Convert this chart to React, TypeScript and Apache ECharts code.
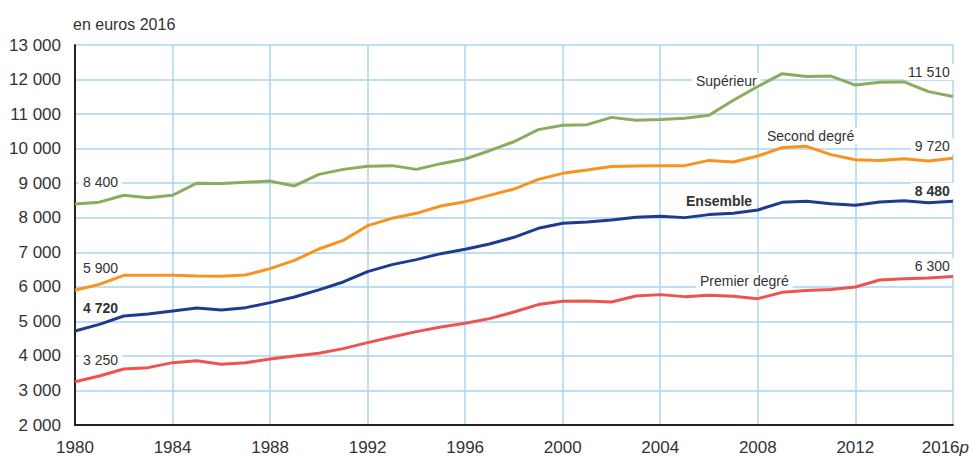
import React, { useEffect, useRef } from "react";
import * as echarts from "echarts";

const years: string[] = [];
for (let y = 1980; y <= 2016; y++) years.push(String(y));

const superieur = [8400, 8450, 8650, 8580, 8650, 9000, 8990, 9025, 9060, 8920, 9255, 9400, 9488, 9508, 9400, 9565, 9700, 9940, 10200, 10550, 10675, 10695, 10905, 10820, 10840, 10877, 10965, 11400, 11800, 12170, 12090, 12100, 11840, 11920, 11930, 11650, 11510];
const secondDegre = [5900, 6070, 6333, 6333, 6333, 6313, 6304, 6342, 6527, 6767, 7095, 7345, 7770, 7983, 8127, 8340, 8465, 8648, 8830, 9110, 9285, 9380, 9480, 9500, 9508, 9508, 9660, 9612, 9786, 10030, 10067, 9826, 9681, 9660, 9710, 9640, 9720];
const ensemble = [4720, 4914, 5155, 5213, 5300, 5387, 5329, 5397, 5542, 5705, 5910, 6140, 6440, 6642, 6787, 6960, 7085, 7240, 7433, 7693, 7838, 7876, 7934, 8012, 8040, 8003, 8090, 8127, 8223, 8446, 8475, 8408, 8359, 8455, 8494, 8437, 8480];
const premierDegre = [3250, 3418, 3621, 3660, 3805, 3863, 3757, 3805, 3910, 3997, 4075, 4211, 4385, 4547, 4703, 4836, 4943, 5079, 5270, 5485, 5580, 5589, 5560, 5734, 5774, 5716, 5754, 5725, 5658, 5840, 5890, 5919, 5994, 6197, 6237, 6255, 6300];

const FONT = "'Liberation Sans', Arial, sans-serif";
const TXT = "#333333";
const GRID = "#a9d5f0";

function fmt(v: number) {
  const s = String(Math.round(v));
  return s.replace(/\B(?=(\d{3})+(?!\d))/g, " ");
}

export default function App() {
  const ref = useRef<HTMLDivElement>(null);
  useEffect(() => {
    if (!ref.current) return;
    const chart = echarts.init(ref.current, null, { renderer: "svg" });
    const lastIdx = years.length - 1;

    const series = [
      { name: "Supérieur", data: superieur, color: "#8aac5c",
        labels: [
          { idx: 0, text: fmt(superieur[0]), bold: false, x: 0, y: 182, align: "left" },
          { idx: lastIdx, text: fmt(superieur[lastIdx]), bold: false, x: 0, y: 72, align: "right" },
          { idx: -1, text: "Supérieur", bold: false, x: 692, y: 81, align: "left" },
        ] },
      { name: "Second degré", data: secondDegre, color: "#f7931e",
        labels: [
          { idx: 0, text: fmt(secondDegre[0]), bold: false, x: 0, y: 268, align: "left" },
          { idx: lastIdx, text: fmt(secondDegre[lastIdx]), bold: false, x: 0, y: 146, align: "right" },
          { idx: -1, text: "Second degré", bold: false, x: 763, y: 136, align: "left" },
        ] },
      { name: "Ensemble", data: ensemble, color: "#1f3b8f",
        labels: [
          { idx: 0, text: fmt(ensemble[0]), bold: true, x: 0, y: 308, align: "left" },
          { idx: lastIdx, text: fmt(ensemble[lastIdx]), bold: true, x: 0, y: 191, align: "right" },
          { idx: -1, text: "Ensemble", bold: true, x: 682, y: 201, align: "left" },
        ] },
      { name: "Premier degré", data: premierDegre, color: "#ee5350",
        labels: [
          { idx: 0, text: fmt(premierDegre[0]), bold: false, x: 0, y: 360, align: "left" },
          { idx: lastIdx, text: fmt(premierDegre[lastIdx]), bold: false, x: 0, y: 266, align: "right" },
          { idx: -1, text: "Premier degré", bold: false, x: 696, y: 281, align: "left" },
        ] },
    ];

    const graphics: any[] = [
      {
        type: "text",
        left: 73,
        top: 16,
        style: { text: "en euros 2016", fill: TXT, font: `16px ${FONT}` },
      },
    ];

    chart.setOption({
      animation: false,
      grid: { left: 75, right: 17, top: 45, bottom: 32, containLabel: false },
      xAxis: {
        type: "category",
        data: years,
        boundaryGap: false,
        axisLine: { show: true, lineStyle: { color: "#222222", width: 2 } },
        axisTick: { show: false },
        axisLabel: {
          interval: 3,
          color: TXT,
          fontFamily: FONT,
          fontSize: 17,
          margin: 14,
          formatter: (v: string) => (v === "2016" ? "{a|2016}{p|p}" : v),
          rich: {
            a: { fontFamily: FONT, fontSize: 17, color: TXT },
            p: { fontFamily: FONT, fontSize: 17, color: TXT, fontStyle: "italic", padding: [0, 15, 0, 0] },
          },
        },
        splitLine: { show: true, interval: 3, lineStyle: { color: GRID, width: 1.5 } },
      },
      yAxis: {
        type: "value",
        min: 2000,
        max: 13000,
        interval: 1000,
        axisLine: { show: true, lineStyle: { color: "#222222", width: 2 } },
        axisTick: { show: false },
        axisLabel: {
          color: TXT,
          fontFamily: FONT,
          fontSize: 17,
          margin: 14,
          formatter: (v: number) => fmt(v),
        },
        splitLine: { show: true, lineStyle: { color: GRID, width: 1.5 } },
      },
      graphic: graphics,
      series: series.map((s) => ({
        type: "line",
        name: s.name,
        data: s.data,
        symbol: "none",
        lineStyle: { color: s.color, width: 3 },
        itemStyle: { color: s.color },
        z: 3,
      })),
    });

    const extra: any[] = [];
    series.forEach((s) => {
      s.labels.forEach((l) => {
        let x = l.x;
        if (l.idx >= 0) {
          const p = chart.convertToPixel({ gridIndex: 0 }, [l.idx, s.data[l.idx]]);
          x = l.idx === 0 ? p[0] + 4 : p[0] + 1;
        }
        extra.push({
          type: "text",
          x,
          y: l.y,
          z: 1,
          style: {
            text: l.text,
            fill: TXT,
            font: `${l.bold ? "bold " : ""}14px ${FONT}`,
            align: l.align,
            verticalAlign: "middle",
            backgroundColor: "#ffffff",
            padding: [1, 4, 1, 4],
          },
        });
      });
    });
    chart.setOption({ graphic: [...graphics, ...extra] });

    return () => chart.dispose();
  }, []);
  return (
    <div
      ref={ref}
      style={{ position: "absolute", left: 0, top: 0, width: 972, height: 457 }}
    />
  );
}
